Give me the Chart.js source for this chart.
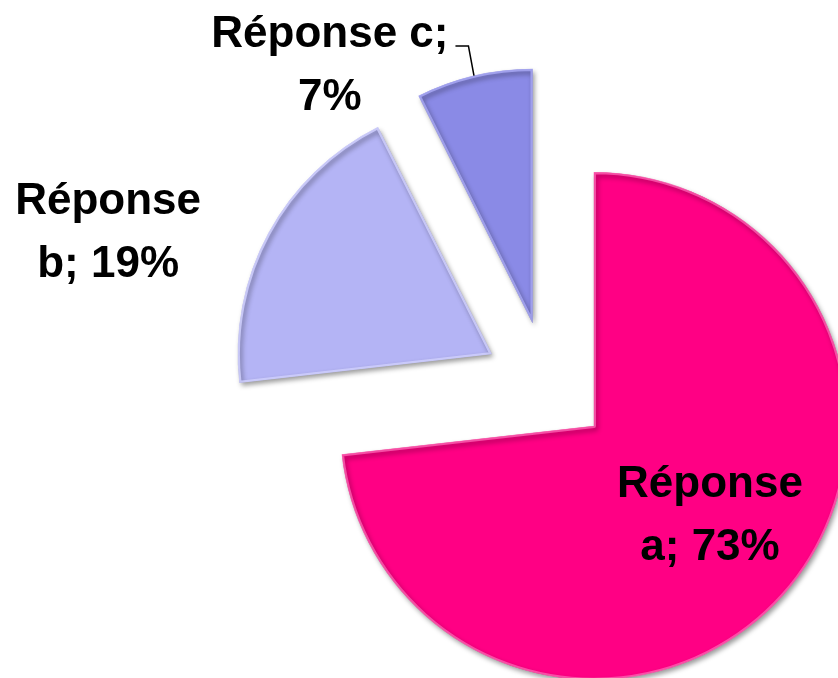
<!DOCTYPE html>
<html>
<head>
<meta charset="utf-8">
<script src="https://cdn.jsdelivr.net/npm/chart.js@4.4.1/dist/chart.umd.min.js"></script>
<style>
    html, body { margin: 0; padding: 0; background: #ffffff; }
</style>
</head>
<body>
<canvas id="pie" width="838" height="678"></canvas>
<script>
// Slices, clockwise from 12 o'clock
const categories = ['Réponse a', 'Réponse b', 'Réponse c'];
const shares = [73.2, 19.4, 7.4];
const colours = ['#FF0084', '#B4B4F5', '#8A8AE6'];
const edgeColours = ['rgba(255,110,185,0.7)', 'rgba(210,210,255,0.8)', 'rgba(170,170,245,0.8)'];

/**
 * Pull every slice out of the centre along its own mid angle
 */
const explodePlugin = {
    id: 'explode',
    afterDatasetUpdate(chart, args, opts) {
        for (const arc of args.meta.data) {
            const mid = (arc.startAngle + arc.endAngle) / 2;
            arc.x += Math.cos(mid) * opts.distance;
            arc.y += Math.sin(mid) * opts.distance;
        }
    },
};

// Soft drop shadow under the slices
const shadowPlugin = {
    id: 'sliceShadow',
    beforeDatasetDraw(chart) {
        const ctx = chart.ctx;
        ctx.save();
        ctx.shadowColor = 'rgba(0,0,0,0.4)';
        ctx.shadowBlur = 5;
        ctx.shadowOffsetX = 2;
        ctx.shadowOffsetY = 3;
    },
    afterDatasetDraw(chart) {
        chart.ctx.restore();
    },
};

/**
 * "Réponse x; NN%" labels, two lines each, plus the leader line of the small slice
 */
const labelPlugin = {
    id: 'sliceLabels',
    afterDatasetsDraw(chart, args, opts) {
        const ctx = chart.ctx;
        const arcs = chart.getDatasetMeta(0).data;
        const total = shares.reduce((s, v) => s + v, 0);
        ctx.save();
        ctx.font = opts.font;
        ctx.fillStyle = '#000000';
        ctx.textAlign = 'center';
        ctx.textBaseline = 'alphabetic';
        arcs.forEach((arc, i) => {
            const place = opts.place[i];
            const mid = (arc.startAngle + arc.endAngle) / 2;
            const r = arc.outerRadius;
            const ang = mid + (place.turn * Math.PI) / 180;
            const cx = arc.x + Math.cos(ang) * r * place.dist;
            const cy = arc.y + Math.sin(ang) * r * place.dist;
            const words = (categories[i] + '; ' + Math.round((shares[i] / total) * 100) + '%').split(' ');
            const lines = [words.slice(0, place.breakAt).join(' '), words.slice(place.breakAt).join(' ')];
            const base1 = cy - opts.lineGap / 2 + opts.capHeight / 2;
            ctx.fillText(lines[0], cx, base1);
            ctx.fillText(lines[1], cx, base1 + opts.lineGap);

            if (place.leader) {
                const right = cx + ctx.measureText(lines[0]).width / 2;
                const ex = arc.x + Math.cos(mid) * r;
                const ey = arc.y + Math.sin(mid) * r;
                ctx.beginPath();
                ctx.strokeStyle = '#000000';
                ctx.lineWidth = 1.5;
                ctx.moveTo(right + 7, base1 - 1);
                ctx.lineTo(right + 20, base1 - 1);
                ctx.lineTo(ex, ey);
                ctx.stroke();
            }
        });
        ctx.restore();
    },
};

new Chart(document.getElementById('pie'), {
    type: 'pie',
    data: {
        labels: categories,
        datasets: [
            {
                data: shares,
                backgroundColor: colours,
                borderColor: edgeColours,
                borderWidth: 2,
                borderAlign: 'inner',
                clip: false,
            },
        ],
    },
    plugins: [explodePlugin, shadowPlugin, labelPlugin],
    options: {
        responsive: false,
        animation: false,
        events: [],
        radius: 254,
        layout: {
            padding: { left: 256, right: 0, top: 90, bottom: 0 },
        },
        plugins: {
            legend: { display: false },
            tooltip: { enabled: false },
            explode: { distance: 63 },
            sliceLabels: {
                font: 'bold 44px "Liberation Sans"',
                lineGap: 63,
                capHeight: 32,
                place: [
                    { dist: 0.57, turn: -5, breakAt: 1 },
                    { dist: 1.587, turn: -10.5, breakAt: 1 },
                    { dist: 1.298, turn: -24.6, breakAt: 2, leader: true },
                ],
            },
        },
    },
});
</script>
</body>
</html>
